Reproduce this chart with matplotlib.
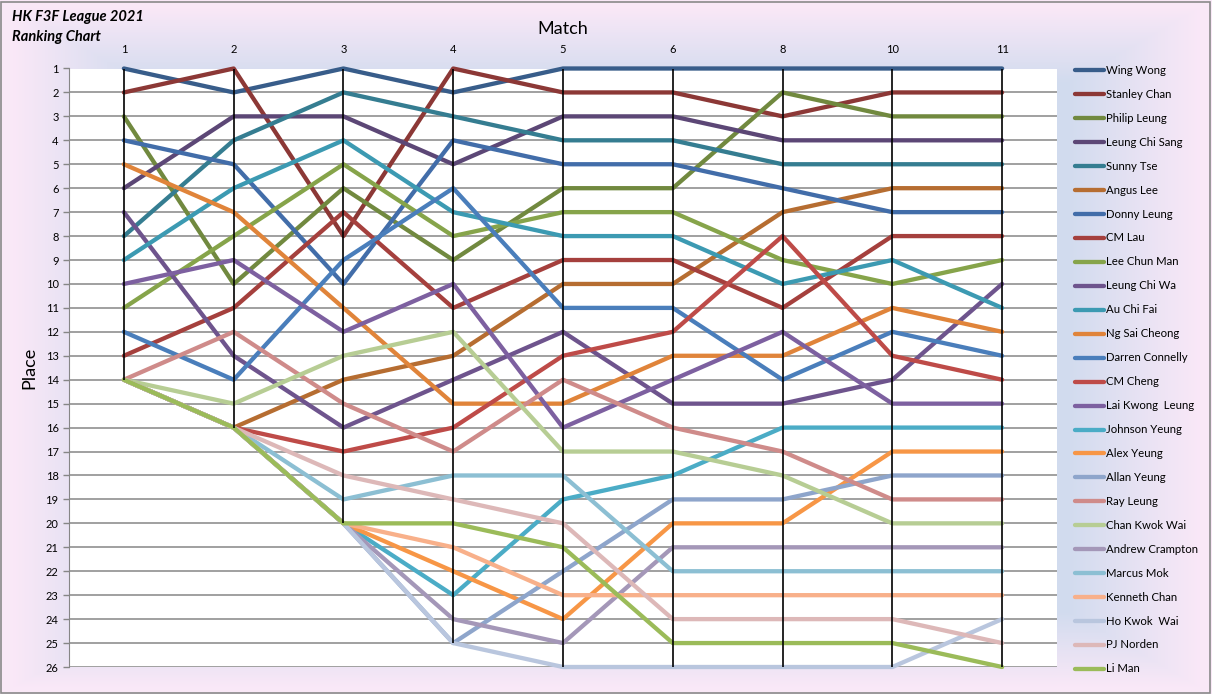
import numpy as np
import matplotlib
matplotlib.use('Agg')
import matplotlib.pyplot as plt
from matplotlib import transforms
from matplotlib.lines import Line2D
from matplotlib.patches import Rectangle

plt.rcParams['font.family'] = ['Lato', 'DejaVu Sans']

# match numbers shown along the top
matches = ['1', '2', '3', '4', '5', '6', '8', '10', '11']

# place after each match, legend order = final ranking
wing_wong = [1, 2, 1, 2, 1, 1, 1, 1, 1]
stanley_chan = [2, 1, 8, 1, 2, 2, 3, 2, 2]
philip_leung = [3, 10, 6, 9, 6, 6, 2, 3, 3]
leung_chi_sang = [6, 3, 3, 5, 3, 3, 4, 4, 4]
sunny_tse = [8, 4, 2, 3, 4, 4, 5, 5, 5]
angus_lee = [14, 16, 14, 13, 10, 10, 7, 6, 6]
donny_leung = [4, 5, 10, 4, 5, 5, 6, 7, 7]
cm_lau = [13, 11, 7, 11, 9, 9, 11, 8, 8]
lee_chun_man = [11, 8, 5, 8, 7, 7, 9, 10, 9]
leung_chi_wa = [7, 13, 16, 14, 12, 15, 15, 14, 10]
au_chi_fai = [9, 6, 4, 7, 8, 8, 10, 9, 11]
ng_sai_cheong = [5, 7, 11, 15, 15, 13, 13, 11, 12]
darren_connelly = [12, 14, 9, 6, 11, 11, 14, 12, 13]
cm_cheng = [14, 16, 17, 16, 13, 12, 8, 13, 14]
lai_kwong_leung = [10, 9, 12, 10, 16, 14, 12, 15, 15]
johnson_yeung = [14, 16, 20, 23, 19, 18, 16, 16, 16]
alex_yeung = [14, 16, 20, 22, 24, 20, 20, 17, 17]
allan_yeung = [14, 16, 20, 25, 22, 19, 19, 18, 18]
ray_leung = [14, 12, 15, 17, 14, 16, 17, 19, 19]
chan_kwok_wai = [14, 15, 13, 12, 17, 17, 18, 20, 20]
andrew_crampton = [14, 16, 20, 24, 25, 21, 21, 21, 21]
marcus_mok = [14, 16, 19, 18, 18, 22, 22, 22, 22]
kenneth_chan = [14, 16, 20, 21, 23, 23, 23, 23, 23]
ho_kwok_wai = [14, 16, 20, 25, 26, 26, 26, 26, 24]
pj_norden = [14, 16, 18, 19, 20, 24, 24, 24, 25]
li_man = [14, 16, 20, 20, 21, 25, 25, 25, 26]

names = ['Wing Wong', 'Stanley Chan', 'Philip Leung', 'Leung Chi Sang', 'Sunny Tse',
         'Angus Lee', 'Donny Leung', 'CM Lau', 'Lee Chun Man', 'Leung Chi Wa',
         'Au Chi Fai', 'Ng Sai Cheong', 'Darren Connelly', 'CM Cheng', 'Lai Kwong  Leung',
         'Johnson Yeung', 'Alex Yeung', 'Allan Yeung', 'Ray Leung', 'Chan Kwok Wai',
         'Andrew Crampton', 'Marcus Mok', 'Kenneth Chan', 'Ho Kwok  Wai', 'PJ Norden', 'Li Man']
series = [wing_wong, stanley_chan, philip_leung, leung_chi_sang, sunny_tse, angus_lee,
          donny_leung, cm_lau, lee_chun_man, leung_chi_wa, au_chi_fai, ng_sai_cheong,
          darren_connelly, cm_cheng, lai_kwong_leung, johnson_yeung, alex_yeung, allan_yeung,
          ray_leung, chan_kwok_wai, andrew_crampton, marcus_mok, kenneth_chan, ho_kwok_wai,
          pj_norden, li_man]
colors = ['#385D8A', '#8C3836', '#71893F', '#5C4776', '#357D91', '#B66D31',
          '#426DA9', '#A5403D', '#86A44A', '#6E548D', '#3C9AB2', '#E0843A',
          '#4A7EBB', '#BE4B48', '#7D60A0', '#4BACC6', '#F79646', '#8EA5CB',
          '#CF8B8A', '#B7CD94', '#A497B8', '#8CBFD3', '#F8B08A', '#B9C6DE',
          '#DDB8B8', '#9BBB59']

W, H = 1212, 694
fig = plt.figure(figsize=(W / 100, H / 100), dpi=100)

# excel style "from centre" gradient behind everything
bg = fig.add_axes([0, 0, 1, 1], zorder=-10)
yy, xx = np.mgrid[0:H, 0:W]
t = np.maximum(np.abs(xx - W / 2) / (W / 2), np.abs(yy - H / 2) / (H / 2))
s = np.clip((t - 0.76) / 0.22, 0, 1)[..., None]
centre = np.array([0.82, 0.86, 0.935])
edge = np.array([0.98, 0.91, 0.97])
bg.imshow(centre * (1 - s) + edge * s, aspect='auto', extent=[0, 1, 0, 1])
bg.axis('off')
fig.patches.append(Rectangle((0.001, 0.001), 0.997, 0.996, transform=fig.transFigure,
                             fill=False, edgecolor='#8a8a8a', lw=1.2))

ax = fig.add_axes([69 / W, 1 - 667 / H, (1057 - 69) / W, (667 - 68.5) / H])
ax.set_facecolor('white')
x = np.arange(len(matches))

for vals, color in zip(series, colors):
    ax.plot(x, vals, color=color, lw=3.1, solid_capstyle='round',
            solid_joinstyle='round', clip_on=False, zorder=2)

# high-low lines at each match
arr = np.array(series)
ax.vlines(x, arr.min(axis=0), arr.max(axis=0), color='black', lw=1.2, zorder=3)

ax.set_xlim(-0.5, len(matches) - 0.5)
ax.set_ylim(26, 1)
ax.set_yticks(range(1, 27))
ax.yaxis.grid(True, color='#868686', lw=1.1)
ax.set_axisbelow(True)
ax.xaxis.tick_top()
ax.set_xticks(x, matches)
ax.tick_params(axis='x', length=0, pad=10, labelsize=8)
ax.tick_params(axis='y', length=4.5, width=1, color='#868686', pad=3, labelsize=8)
for side in ['top', 'right', 'bottom']:
    ax.spines[side].set_visible(False)
ax.spines['left'].set_color('#868686')
ax.xaxis.set_label_position('top')
ax.set_xlabel('Match', fontsize=13, labelpad=7)
ax.set_ylabel('Place', fontsize=13, labelpad=6)

# legend drawn by hand, one row per rank
trans = transforms.blended_transform_factory(fig.transFigure, ax.transData)
for i, (name, color) in enumerate(zip(names, colors)):
    row = i + 1.08
    fig.add_artist(Line2D([1075 / W, 1104 / W], [row, row], transform=trans, color=color,
                          lw=3.1, solid_capstyle='round', clip_on=False))
    fig.text(1106 / W, row, name, transform=trans, fontsize=8.2, va='center', ha='left')

fig.text(12 / W, 1 - 17 / H, 'HK F3F League 2021', fontsize=10.5, fontweight='bold',
         fontstyle='italic', va='center')
fig.text(12 / W, 1 - 37 / H, 'Ranking Chart', fontsize=10.5, fontweight='bold',
         fontstyle='italic', va='center')

fig.savefig('out.png', dpi=100)
